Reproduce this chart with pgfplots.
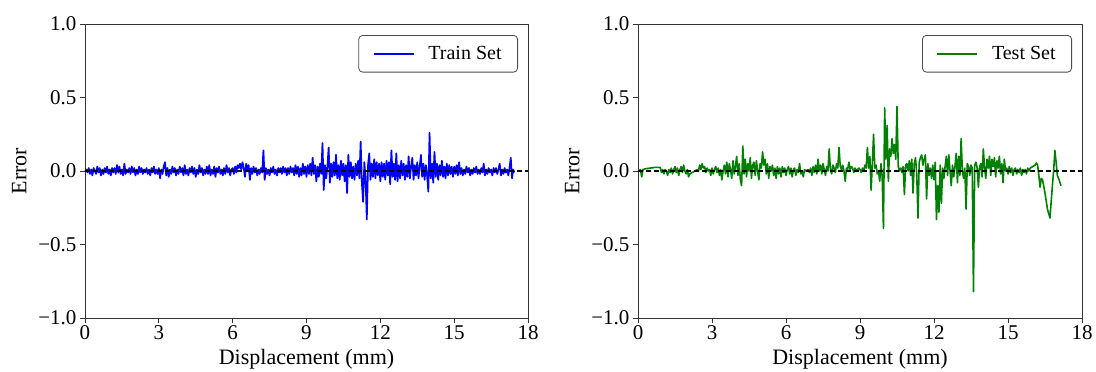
\documentclass[border=0pt]{standalone}
\usepackage{pgfplots}
\pgfplotsset{compat=1.18}
\usepackage{fontspec}
\setmainfont{Liberation Serif}
\definecolor{mplgreen}{RGB}{0,128,0}
\pgfplotsset{
  myax/.style={
    scale only axis, width=443pt, height=294pt,
    xmin=0, xmax=18, ymin=-1, ymax=1,
    xtick={0,3,6,9,12,15,18}, xticklabels={0,3,6,9,12,15,18},
    ytick={-1,-0.5,0,0.5,1}, yticklabels={−1.0,−0.5,0.0,0.5,1.0},
    tick align=outside, tick pos=left, major tick length=5pt,
    every tick/.style={black!80, line width=0.8pt},
    axis line style={black!80, line width=0.8pt},
    tick label style={font=\fontsize{21}{25}\selectfont},
    label style={font=\fontsize{22}{26}\selectfont},
    xlabel={Displacement (mm)}, ylabel={Error},
    xticklabel style={yshift=1pt},
    xlabel style={yshift=-3pt},
    ylabel style={yshift=5pt},
    legend style={at={(1,1)}, anchor=north east, xshift=-10pt, yshift=-11pt,
      font=\fontsize{20}{24}\selectfont, rounded corners=4pt, draw=black!70,
      line width=0.8pt, inner xsep=14pt, inner ysep=9pt},
    legend image code/.code={\draw[##1] (0pt,0pt) -- (40pt,0pt);},
    legend cell align=left,
    clip=true,
  }
}
\begin{document}
\begin{tikzpicture}
\useasboundingbox (-85pt,-54pt) rectangle (1011pt,318pt);
\begin{axis}[myax, at={(0pt,0pt)}, anchor=south west]
\addplot[blue, line width=1.7pt, line join=round] coordinates {
(0,0) (0.05,0.01) (0.1,-0.01) (0.15,0.02) (0.2,-0.02) (0.25,0.01) (0.3,-0.03) (0.35,0.02) (0.4,0) (0.45,-0.02) (0.5,0.03) (0.55,-0.01) (0.6,0.02) (0.65,-0.03) (0.7,0.01) (0.75,-0.02) (0.8,0.02) (0.85,-0.01) (0.9,0.03) (0.95,-0.02) (1,0.01) (1.05,-0.03) (1.1,0.02) (1.15,-0.01) (1.2,0.02) (1.25,-0.02) (1.3,0.04) (1.35,-0.01) (1.4,0.03) (1.45,-0.02) (1.5,0.01) (1.55,-0.03) (1.6,0.05) (1.65,-0.02) (1.7,0.01) (1.75,-0.01) (1.8,0.02) (1.85,-0.02) (1.9,0.03) (1.95,-0.01) (2,0.02) (2.05,-0.03) (2.1,0.01) (2.15,-0.02) (2.2,0.03) (2.25,-0.01) (2.3,0.02) (2.35,-0.02) (2.4,0.01) (2.45,-0.01) (2.5,0.02) (2.55,-0.02) (2.6,0.01) (2.65,-0.03) (2.7,0.02) (2.75,-0.01) (2.8,0.03) (2.85,-0.02) (2.9,0.01) (2.95,-0.02)
(3,0.02) (3.05,-0.05) (3.1,0.01) (3.15,-0.02) (3.2,0.03) (3.25,0.06) (3.3,-0.03) (3.35,0.02) (3.4,-0.04) (3.45,0.01) (3.5,-0.02) (3.55,0.03) (3.6,-0.01) (3.65,0.02) (3.7,-0.03) (3.75,0.01) (3.8,-0.02) (3.85,0.03) (3.9,-0.01) (3.95,0.02) (4,-0.03) (4.05,0.04) (4.1,-0.02) (4.15,0.01) (4.2,-0.03) (4.25,0.02) (4.3,-0.01) (4.35,0.03) (4.4,-0.02) (4.45,0.02) (4.5,-0.04) (4.55,0.01) (4.6,-0.02) (4.65,0.04) (4.7,-0.01) (4.75,0.02) (4.8,-0.03) (4.85,0.01) (4.9,-0.02) (4.95,0.03) (5,-0.02) (5.05,0.04) (5.1,-0.03) (5.15,0.01) (5.2,-0.02) (5.25,0.03) (5.3,-0.04) (5.35,0.02) (5.4,-0.01) (5.45,0.03) (5.5,-0.02) (5.55,0.01) (5.6,-0.03) (5.65,0.02) (5.7,-0.02) (5.75,0.04) (5.8,-0.01) (5.85,0.02) (5.9,-0.03) (5.95,0.01)
(6,0.02) (6.05,-0.02) (6.1,0.03) (6.15,-0.01) (6.2,0.04) (6.25,0.02) (6.3,0.05) (6.35,0.01) (6.4,0.06) (6.45,0.02) (6.5,-0.04) (6.55,0.05) (6.6,0.01) (6.65,0.04) (6.7,-0.06) (6.75,0.02) (6.8,-0.02) (6.85,0.03) (6.9,-0.01) (6.95,0.02) (7,-0.03) (7.05,0.01) (7.1,-0.02) (7.15,0.02) (7.2,-0.01) (7.25,0.14) (7.3,-0.06) (7.35,0.02) (7.4,-0.02) (7.45,0.01) (7.5,-0.03) (7.55,0.02) (7.6,-0.01) (7.65,0.03) (7.7,-0.02) (7.75,0.01) (7.8,-0.03) (7.85,0.02) (7.9,-0.01) (7.95,0.02) (8,-0.02) (8.05,0.03) (8.1,-0.01) (8.15,0.02) (8.2,-0.03) (8.25,0.02) (8.3,-0.02) (8.35,0.03) (8.4,-0.01) (8.45,0.02) (8.5,-0.03) (8.55,0.04) (8.6,-0.02) (8.65,0.03) (8.7,-0.04) (8.75,0.02) (8.8,-0.03) (8.85,0.05) (8.9,-0.02) (8.95,0.03)
(9,-0.04) (9.05,0.04) (9.1,-0.02) (9.15,0.05) (9.2,-0.03) (9.25,0.09) (9.3,-0.02) (9.35,0.04) (9.4,-0.07) (9.45,0.03) (9.5,-0.04) (9.55,0.05) (9.6,-0.02) (9.65,0.19) (9.7,-0.13) (9.75,0.04) (9.8,-0.05) (9.85,0.03) (9.9,0.16) (9.95,-0.08) (10,0.05) (10.05,-0.04) (10.1,0.06) (10.15,-0.03) (10.2,0.11) (10.25,-0.05) (10.3,0.04) (10.35,-0.06) (10.4,0.07) (10.45,-0.03) (10.5,0.05) (10.55,-0.07) (10.6,0.04) (10.65,-0.15) (10.7,0.11) (10.75,-0.04) (10.8,0.06) (10.85,-0.05) (10.9,0.03) (10.95,-0.06) (11,0.05) (11.05,-0.03) (11.1,0.07) (11.15,-0.05) (11.2,0.2) (11.25,-0.08) (11.3,-0.21) (11.35,0.06) (11.4,-0.05) (11.45,-0.33) (11.5,0.04) (11.55,0.12) (11.6,-0.06) (11.65,0.05) (11.7,-0.04) (11.75,0.08) (11.8,-0.05) (11.85,0.06) (11.9,-0.03) (11.95,0.05)
(12,-0.07) (12.05,0.06) (12.1,-0.04) (12.15,0.05) (12.2,-0.06) (12.25,0.07) (12.3,-0.03) (12.35,0.06) (12.4,-0.09) (12.45,0.14) (12.5,-0.04) (12.55,0.05) (12.6,-0.06) (12.65,0.12) (12.7,-0.07) (12.75,0.04) (12.8,-0.05) (12.85,0.07) (12.9,-0.03) (12.95,0.05) (13,-0.06) (13.05,0.04) (13.1,-0.04) (13.15,0.1) (13.2,-0.05) (13.25,0.03) (13.3,0.09) (13.35,-0.06) (13.4,0.04) (13.45,-0.03) (13.5,0.06) (13.55,-0.05) (13.6,0.03) (13.65,0.11) (13.7,-0.04) (13.75,0.05) (13.8,-0.06) (13.85,0.04) (13.9,-0.03) (13.95,-0.14) (14,0.26) (14.05,-0.05) (14.1,0.05) (14.15,-0.08) (14.2,0.13) (14.25,-0.04) (14.3,0.05) (14.35,-0.06) (14.4,0.04) (14.45,-0.03) (14.5,0.07) (14.55,-0.04) (14.6,0.03) (14.65,-0.05) (14.7,0.05) (14.75,-0.03) (14.8,0.04) (14.85,-0.02) (14.9,0.03) (14.95,-0.04)
(15,0.03) (15.05,-0.02) (15.1,0.04) (15.15,-0.03) (15.2,0.06) (15.25,-0.02) (15.3,0.02) (15.35,-0.03) (15.4,0.01) (15.45,-0.02) (15.5,0.03) (15.55,-0.01) (15.6,0.02) (15.65,-0.03) (15.7,0.01) (15.75,-0.02) (15.8,0.02) (15.85,-0.01) (15.9,0.03) (15.95,-0.02) (16,0.01) (16.05,-0.02) (16.1,0.02) (16.15,-0.01) (16.2,0.05) (16.25,-0.03) (16.3,0.01) (16.35,-0.02) (16.4,0.02) (16.45,-0.01) (16.5,0.01) (16.55,-0.03) (16.6,0.02) (16.65,-0.01) (16.7,0.02) (16.75,-0.02) (16.8,0.01) (16.85,0.05) (16.9,-0.03) (16.95,0.01) (17,-0.02) (17.05,0.02) (17.1,-0.01) (17.15,0.01) (17.2,-0.03) (17.25,0.02) (17.3,0.09) (17.35,-0.05) (17.4,0.01) (17.45,-0.01)
};
\addlegendentry{\hspace{12pt}Train Set}
\addplot[black, line width=1.2pt, dash pattern=on 5pt off 3pt, forget plot] coordinates {(0,0) (18,0)};
\end{axis}
\begin{axis}[myax, at={(553pt,0pt)}, anchor=south west, width=444pt]
\addplot[mplgreen, line width=1.6pt, line join=round] coordinates {
(0,0.01) (0.05,0.0) (0.1,0.01) (0.15,-0.04) (0.2,0.01) (0.3,0.015) (0.5,0.02) (0.7,0.025) (0.9,0.025) (0.95,-0.01) (1.0,0.01) (1.05,-0.02) (1.1,0.01) (1.15,0.0) (1.2,-0.03) (1.25,0.01) (1.3,-0.01) (1.35,0.02) (1.4,-0.02) (1.45,0.01) (1.5,0.03) (1.55,-0.01) (1.6,0.02) (1.65,-0.03) (1.7,0.01) (1.75,0.03) (1.8,-0.01) (1.85,0.04) (1.9,0.0) (1.95,-0.02) (2.0,0.01) (2.05,-0.04) (2.1,-0.02) (2.2,-0.01) (2.3,0.0) (2.4,0.01) (2.45,0.0) (2.5,0.04) (2.55,0.01) (2.6,0.05) (2.65,0.02) (2.7,0.03) (2.75,-0.01) (2.8,0.02) (2.85,0.0) (2.9,0.01) (2.95,-0.03)
(3.0,0.02) (3.05,-0.02) (3.1,0.01) (3.15,0.03) (3.2,-0.01) (3.25,0.02) (3.3,-0.03) (3.35,0.01) (3.4,-0.06) (3.45,0.0) (3.5,0.04) (3.55,-0.02) (3.6,0.06) (3.65,-0.04) (3.7,0.05) (3.75,0.01) (3.8,-0.05) (3.85,0.07) (3.9,-0.02) (3.95,0.03) (4.0,0.1) (4.05,-0.03) (4.1,0.05) (4.15,-0.06) (4.2,-0.1) (4.25,0.17) (4.3,-0.02) (4.35,0.08) (4.4,-0.04) (4.45,0.05) (4.5,0.0) (4.55,0.09) (4.6,-0.05) (4.65,0.04) (4.7,0.06) (4.75,-0.03) (4.8,0.07) (4.85,0.0) (4.9,-0.06) (4.95,0.05) (5.0,0.02) (5.05,0.13) (5.1,0.04) (5.15,0.08) (5.2,-0.02) (5.25,0.05) (5.3,-0.05) (5.35,0.03) (5.4,0.0) (5.45,0.04) (5.5,-0.03) (5.55,0.02) (5.6,-0.05) (5.65,0.03) (5.7,-0.02) (5.75,0.02) (5.8,-0.04) (5.85,0.03) (5.9,-0.01) (5.95,0.02)
(6.0,-0.03) (6.05,0.01) (6.1,0.03) (6.15,-0.02) (6.2,0.02) (6.25,-0.04) (6.3,0.01) (6.35,0.02) (6.4,-0.03) (6.45,0.01) (6.5,-0.01) (6.55,0.05) (6.6,-0.02) (6.65,0.0) (6.7,-0.04) (6.75,0.01) (6.8,0.0) (6.9,0.01) (6.95,-0.01) (7.0,0.02) (7.05,-0.03) (7.1,0.03) (7.15,-0.01) (7.2,0.04) (7.25,-0.02) (7.3,0.08) (7.35,0.0) (7.4,0.04) (7.45,-0.02) (7.5,0.05) (7.55,0.01) (7.6,-0.03) (7.65,0.03) (7.7,0.0) (7.75,0.15) (7.8,0.01) (7.85,-0.02) (7.9,0.04) (7.95,0.02) (8.0,-0.01) (8.05,0.05) (8.1,0.02) (8.15,0.16) (8.2,0.03) (8.25,0.01) (8.3,0.04) (8.35,0.0) (8.4,-0.07) (8.45,0.02) (8.5,0.01) (8.55,0.06) (8.6,0.01) (8.65,0.03) (8.7,0.02) (8.75,-0.01) (8.8,0.02) (8.85,0.0) (8.9,0.01) (8.95,0.02)
(9.0,0.01) (9.05,-0.01) (9.1,0.02) (9.15,0.0) (9.2,0.04) (9.25,0.02) (9.3,0.16) (9.35,0.02) (9.4,0.1) (9.45,-0.13) (9.5,0.05) (9.55,0.25) (9.6,0.02) (9.65,0.04) (9.7,-0.02) (9.75,0.0) (9.8,-0.07) (9.85,0.05) (9.9,-0.04) (9.95,-0.39) (10.0,0.43) (10.05,0.08) (10.1,0.31) (10.15,-0.07) (10.2,0.15) (10.25,0.1) (10.3,0.22) (10.35,0.12) (10.4,0.18) (10.45,0.08) (10.5,0.44) (10.55,0.03) (10.6,0.0) (10.65,0.02) (10.7,-0.01) (10.75,0.03) (10.8,-0.16) (10.85,0.04) (10.9,0.05) (10.95,0.0) (11.0,0.07) (11.05,-0.03) (11.1,0.08) (11.15,-0.15) (11.2,0.05) (11.25,0.09) (11.3,-0.02) (11.35,-0.32) (11.4,0.06) (11.45,0.09) (11.5,0.11) (11.55,0.04) (11.6,0.08) (11.65,0.11) (11.7,-0.19) (11.75,0.05) (11.8,-0.03) (11.85,0.02) (11.9,-0.05) (11.95,0.04)
(12.0,-0.06) (12.05,0.06) (12.1,-0.33) (12.15,-0.1) (12.2,-0.28) (12.25,0.04) (12.3,-0.22) (12.35,0.02) (12.4,-0.05) (12.45,0.03) (12.5,0.1) (12.55,-0.03) (12.6,0.11) (12.65,0.0) (12.7,-0.1) (12.75,0.04) (12.8,-0.04) (12.85,0.03) (12.9,0.12) (12.95,-0.08) (13.0,0.1) (13.05,-0.03) (13.1,0.22) (13.15,0.0) (13.2,-0.05) (13.25,0.02) (13.3,-0.26) (13.35,0.05) (13.4,0.03) (13.45,-0.03) (13.5,0.04) (13.55,0.02) (13.6,-0.82) (13.65,0.04) (13.7,0.06) (13.75,0.02) (13.8,-0.11) (13.85,0.03) (13.9,0.05) (13.95,-0.04) (14.0,0.15) (14.05,0.02) (14.1,-0.05) (14.15,0.08) (14.2,0.02) (14.25,0.1) (14.3,-0.03) (14.35,0.08) (14.4,0.03) (14.45,0.09) (14.5,-0.04) (14.55,0.07) (14.6,0.02) (14.65,0.1) (14.7,-0.02) (14.75,0.05) (14.8,-0.08) (14.85,0.08) (14.9,0.0) (14.95,0.02)
(15.0,-0.02) (15.05,0.03) (15.1,-0.01) (15.15,0.02) (15.2,-0.03) (15.25,0.01) (15.3,0.02) (15.35,-0.02) (15.4,0.01) (15.45,-0.01) (15.5,0.02) (15.55,-0.03) (15.6,0.01) (15.65,-0.01) (15.7,0.01) (15.75,-0.02) (15.8,0.02) (15.85,0.0) (15.9,0.02) (16.0,0.03) (16.1,0.04) (16.15,0.055) (16.2,0.04) (16.25,-0.03) (16.3,-0.11) (16.35,-0.05) (16.4,-0.06) (16.5,-0.15) (16.6,-0.26) (16.7,-0.32) (16.8,-0.1) (16.85,0.0) (16.9,0.14) (16.95,0.06) (17.0,-0.03) (17.05,-0.05) (17.15,-0.1)
};
\addlegendentry{\hspace{12pt}Test Set}
\addplot[black, line width=1.2pt, dash pattern=on 5pt off 3pt, forget plot] coordinates {(0,0) (18,0)};
\end{axis}
\end{tikzpicture}
\end{document}
